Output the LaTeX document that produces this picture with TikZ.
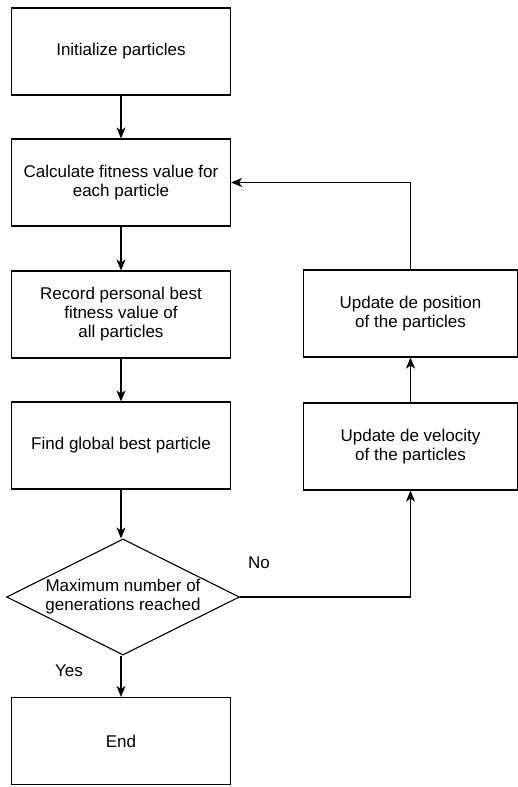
\documentclass[tikz,border=0pt]{standalone}
\usepackage{fontspec}
\setmainfont{Liberation Sans}
\usetikzlibrary{arrows.meta,shapes.geometric}
\tikzstyle{procbox}=[rectangle, draw, line width=1.1pt, minimum width=219pt, minimum height=87pt, align=center, inner sep=0pt]
\tikzstyle{decision}=[diamond, draw, line width=1.1pt, minimum width=233pt, minimum height=116pt, inner sep=0pt]
\tikzstyle{flow}=[draw, line width=1.1pt, -{Stealth[length=11pt,width=9pt,inset=3pt]}]
\newcommand{\proc}{\node[procbox]}

\begin{document}
\begin{tikzpicture}[x=1pt, y=-1pt
  ,every node/.style={font=\fontsize{17}{19}\selectfont}
]
\useasboundingbox (0,0) rectangle (518,787);
\proc (init) at (121,51.5) {Initialize particles};
\proc (calc) at (121,182.5) {Calculate fitness value for\\each particle};
\proc (record) at (121,314.5) {Record personal best\\fitness value of\\all particles};
\proc (find) at (121,445.5) {Find global best particle};
\node[decision] (dec) at (123,597) {};
\node[align=center] (dectext) at (dec.center) {Maximum number of\\generations reached};
\proc (end) at (121,741) {End};
\node[procbox, minimum width=214pt] (vel) at (410.5,446.5) {Update de velocity\\of the particles};
\node[procbox, minimum width=214pt] (pos) at (410.5,313.5) {Update de position\\of the particles};
\node (no) at (259,563) {No};
\node (yes) at (69,671) {Yes};
%\node (start) at (121,0) {};
\path[flow] (init) -- (calc);
\path[flow] (calc) -- (record);
\path[flow] (record) -- (find);
\path[flow] (find.south) -- (find.south |- dec.north);
\path[flow] (end.north |- dec.south) -- (end.north);
\path[flow] (dec.east) -| (vel.south);
\path[flow] (vel) -- (pos);
\path[flow] (pos.north) |- (calc.east);
\end{tikzpicture}
\end{document}
